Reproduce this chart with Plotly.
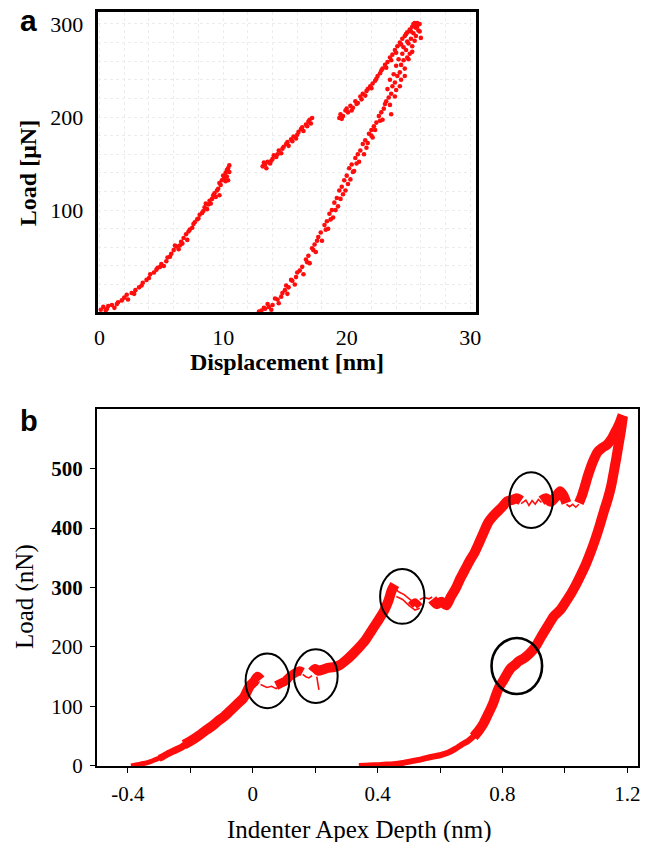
import plotly.graph_objects as go

W, H = 659, 842
RED = "#ff0d0d"
SERIF = "Liberation Serif"

# ---------------- panel a : load-displacement scatter ----------------
seg1_x = [0.1, 0.3, 0.5, 0.7, 1.0, 1.2, 1.5, 1.8, 2.0, 2.3, 2.6, 2.9, 3.2, 3.5, 3.8, 4.1, 4.4, 4.7,
          5.0, 5.2, 5.5, 5.8, 6.0, 6.2, 6.4, 6.6, 6.8, 7.0, 7.1, 7.3, 7.5, 7.7, 7.9, 8.1, 8.3, 8.5,
          8.7, 8.9, 9.1, 9.3, 9.4, 9.6, 9.8, 9.9, 10.1, 10.2, 10.3, 10.4, 10.5, 10.4, 9.7, 8.8, 6.7,
          5.7, 4.6,
          0.6, 1.4, 2.2, 2.8, 3.4, 4.0, 4.9, 5.4, 6.1, 6.5, 7.2, 7.6, 8.0, 8.4, 8.6, 9.0, 9.2, 9.5,
          9.7, 10.0, 10.3, 10.5, 10.2]
seg1_y = [-7, -4, -8, -3, -2, -5, 1, 3, 6, 4, 11, 14, 17, 22, 25, 31, 33, 38,
          42, 40, 49, 53, 57, 61, 58, 66, 70, 74, 68, 79, 81, 87, 90, 95, 97, 103,
          101, 110, 112, 118, 114, 123, 127, 132, 134, 140, 136, 145, 141, 132, 116, 106, 64,
          50, 36,
          -6, -1, 9, 10, 19, 27, 39, 45, 62, 62, 77, 85, 91, 99, 107, 107, 116, 121,
          129, 137, 143, 148, 131]

seg2_x = [13.2, 13.3, 13.5, 13.6, 13.8, 14.0, 14.1, 14.3, 14.5, 14.7, 14.9, 15.1, 15.3, 15.5,
          15.7, 15.9, 16.1, 16.3, 16.5, 16.7, 16.9, 17.1, 17.2,
          13.4, 13.9, 14.4, 14.8, 15.2, 15.6, 16.0, 16.4, 16.8, 17.0]
seg2_y = [147, 151, 145, 152, 150, 155, 159, 157, 164, 161, 168, 171, 169, 176,
          179, 177, 184, 187, 185, 192, 195, 193, 199,
          149, 153, 160, 166, 173, 174, 181, 189, 190, 197]

seg3_x = [19.4, 19.5, 19.7, 19.9, 20.1, 20.3, 20.5, 20.7, 20.9, 21.1, 21.3, 21.5, 21.7, 21.9,
          22.1, 22.3, 22.5, 22.7, 22.9, 23.1, 23.3, 23.5, 23.7, 23.9, 24.1, 24.3, 24.5, 24.7,
          24.9, 25.1, 25.3, 25.5, 25.6,
          19.6, 20.0, 20.4, 20.8, 21.2, 21.6, 22.0, 22.4, 22.8, 23.2, 23.6, 24.0, 24.4, 24.8,
          25.2, 25.4, 25.7, 25.9]
seg3_y = [199, 203, 201, 207, 205, 212, 210, 217, 215, 222, 225, 223, 230, 233,
          236, 239, 244, 247, 252, 256, 259, 264, 267, 272, 276, 280, 284, 287,
          291, 294, 297, 299, 296,
          198, 209, 207, 214, 219, 228, 231, 241, 250, 253, 261, 269, 278, 289,
          292, 300, 301, 292]

unload_x = [25.9, 25.7, 25.5, 25.8, 26.0, 25.4, 25.6, 25.2, 25.0, 25.3, 24.8, 25.1, 24.9, 24.6,
            24.4, 24.7, 24.3, 24.1, 24.4, 23.9, 23.7, 24.0, 23.6, 23.4, 23.2, 23.5, 23.0, 22.8,
            22.6, 22.9, 22.4, 22.2, 22.0, 21.8, 22.1, 21.5, 21.3, 21.6, 21.1, 20.9, 20.7, 21.0,
            20.4, 20.2, 20.5, 20.0, 19.8, 20.1, 19.6, 19.4, 19.7, 19.2, 19.0, 19.3, 18.8, 18.6,
            18.9, 18.4, 18.2, 18.5, 17.9, 17.7, 18.0, 17.4, 17.2, 17.5, 16.9, 16.7, 17.0, 16.4,
            16.2, 16.5, 15.9, 15.6, 15.8, 15.3, 15.0, 15.2, 14.7, 14.4, 14.5, 14.0, 13.7, 13.9,
            13.4, 13.1, 12.9,
            24.2, 24.5, 24.0, 23.8, 24.6, 24.9, 23.5, 23.3, 23.9, 23.1, 22.7, 23.6, 22.3, 22.0,
            21.7, 21.4, 20.8, 20.6, 20.3, 19.9, 19.5, 19.1, 18.7, 18.3, 17.6, 17.3, 16.8, 16.0,
            15.5, 15.1, 14.8, 14.2, 13.6, 13.3, 25.5, 25.3, 25.0, 24.7, 24.3]
unload_y = [300, 297, 301, 293, 285, 290, 287, 284, 279, 276, 272, 268, 264, 261,
            256, 252, 248, 244, 240, 237, 233, 229, 225, 221, 217, 213, 209, 205,
            201, 197, 194, 190, 186, 182, 178, 175, 171, 167, 164, 160, 156, 152,
            149, 145, 141, 137, 132, 128, 125, 121, 117, 113, 108, 104, 100, 96,
            92, 88, 84, 80, 76, 71, 67, 63, 59, 55, 51, 47, 43, 39,
            35, 31, 28, 24, 20, 17, 14, 10, 7, 4, 0, -2, -4, -7,
            -6, -8, -9,
            262, 268, 255, 246, 275, 281, 240, 230, 222, 214, 196, 203, 186, 180,
            172, 160, 150, 142, 133, 121, 112, 100, 90, 79, 67, 57, 44, 33,
            25, 19, 11, 5, -1, -5, 282, 270, 262, 244, 233]

a_xticks = [0, 10, 20, 30]
a_yticks = [100, 200, 300]

# ---------------- panel b : load vs indenter apex depth ----------------
# thick bands (dense noisy record) and thin squiggles inside the events
load_bands = [
    ([-0.39, -0.37, -0.35, -0.33, -0.31, -0.29],
     [0, 2, 4, 7, 11, 15], 5),
    ([-0.30, -0.29, -0.27, -0.25, -0.23, -0.21],
     [13, 15, 21, 26, 31, 38], 7),
    ([-0.22, -0.19, -0.17, -0.15, -0.13, -0.11, -0.09, -0.07, -0.05, -0.03, -0.01, 0.005, 0.015, 0.025],
     [36, 45, 52, 60, 67, 76, 84, 94, 104, 114, 134, 142, 150, 145], 10),
    ([0.075, 0.09, 0.105, 0.12, 0.135, 0.15, 0.16],
     [135, 139, 143, 151, 156, 160, 158], 9),
    ([0.19, 0.2, 0.21, 0.225, 0.24, 0.26, 0.28, 0.3, 0.32, 0.34, 0.36, 0.38, 0.4, 0.42, 0.435, 0.445, 0.455],
     [158, 163, 160, 162, 165, 166, 170, 178, 188, 199, 211, 227, 243, 260, 278, 295, 305], 10),
    ([0.505, 0.52, 0.535],
     [270, 276, 268], 7),
    ([0.575, 0.59, 0.605, 0.62, 0.635, 0.65, 0.665, 0.68, 0.695, 0.71, 0.725, 0.74, 0.755, 0.77,
      0.785, 0.8, 0.815, 0.83, 0.845, 0.86],
     [280, 272, 276, 270, 285, 298, 315, 330, 345, 358, 375, 393, 410, 420,
      428, 436, 445, 447, 450, 446], 10),
    ([0.925, 0.94, 0.955, 0.97, 0.985, 0.995, 1.005],
     [446, 450, 444, 452, 462, 455, 442], 10),
    ([1.045, 1.055, 1.065, 1.075, 1.09, 1.105, 1.12, 1.135, 1.15, 1.16, 1.17, 1.178, 1.185],
     [442, 455, 472, 490, 512, 528, 535, 540, 550, 560, 570, 580, 590], 10),
]

load_squiggles = [
    ([0.025, 0.045, 0.06, 0.075, 0.09], [137, 132, 134, 130, 136]),
    ([0.16, 0.17, 0.18, 0.19], [154, 150, 148, 152]),
    ([0.205, 0.21, 0.212], [150, 138, 128]),
    ([0.455, 0.47, 0.485, 0.5, 0.515], [298, 292, 288, 282, 275]),
    ([0.46, 0.48, 0.5, 0.52, 0.535], [285, 280, 270, 262, 265]),
    ([0.535, 0.55, 0.565, 0.575], [280, 283, 281, 284]),
    ([0.86, 0.875, 0.885, 0.895, 0.905, 0.915, 0.925], [441, 447, 438, 446, 440, 448, 443]),
    ([1.005, 1.015, 1.025, 1.035, 1.045], [440, 436, 440, 435, 440]),
]

unload_upper_x = [1.186, 1.18, 1.172, 1.165, 1.157, 1.148, 1.137, 1.125, 1.112, 1.098, 1.083, 1.068,
                  1.052, 1.036, 1.02, 1.003, 0.985, 0.965, 0.945, 0.925, 0.905, 0.885, 0.866, 0.852,
                  0.84, 0.828, 0.816, 0.803, 0.79, 0.78, 0.772, 0.763, 0.752, 0.74, 0.725, 0.708]
unload_upper_y = [588, 565, 540, 518, 495, 470, 448, 428, 405, 382, 360, 340,
                  322, 305, 290, 276, 262, 252, 235, 218, 200, 188, 180, 176,
                  170, 165, 156, 144, 133, 120, 108, 97, 85, 72, 60, 49]
unload_lower_x = [0.712, 0.69, 0.67, 0.65, 0.625, 0.6, 0.57, 0.54, 0.51, 0.48, 0.45, 0.42, 0.39, 0.36, 0.34]
unload_lower_y = [52, 42, 36, 29, 22, 18, 15, 11, 8, 5, 3, 2, 1, 0.5, 0]

# highlighted events: centre x, centre y, half-width, half-height, line width
events = [
    (0.047, 143, 0.070, 46, 2.0),
    (0.202, 151, 0.070, 45, 2.0),
    (0.479, 285, 0.071, 46, 2.0),
    (0.892, 447, 0.070, 47, 2.0),
    (0.846, 168, 0.081, 47, 2.6),
]

b_xtickvals = [-0.4, -0.2, 0.0, 0.2, 0.4, 0.6, 0.8, 1.0, 1.2]
b_xticktext = ["-0.4", "", "0", "", "0.4", "", "0.8", "", "1.2"]
b_ytickvals = [0, 100, 200, 300, 400, 500]
b_yticktext = ["0", "100", "200", "<b>300</b>", "<b>400</b>", "<b>500</b>"]

fig = go.Figure()

for xs, ys in [(seg1_x, seg1_y), (seg2_x, seg2_y), (seg3_x, seg3_y), (unload_x, unload_y)]:
    fig.add_trace(go.Scatter(x=xs, y=ys, mode="markers", xaxis="x", yaxis="y",
                             marker=dict(color=RED, size=4.6, line=dict(width=0)),
                             showlegend=False, hoverinfo="skip"))

band_line = dict(color=RED, shape="spline", smoothing=0.7)
for xs, ys, w in load_bands:
    fig.add_trace(go.Scatter(x=xs, y=ys, mode="lines", xaxis="x2", yaxis="y2",
                             line=dict(band_line, width=w),
                             showlegend=False, hoverinfo="skip"))
for xs, ys in load_squiggles:
    fig.add_trace(go.Scatter(x=xs, y=ys, mode="lines", xaxis="x2", yaxis="y2",
                             line=dict(color=RED, width=1.6),
                             showlegend=False, hoverinfo="skip"))
fig.add_trace(go.Scatter(x=unload_upper_x, y=unload_upper_y, mode="lines", xaxis="x2", yaxis="y2",
                         line=dict(band_line, width=10), showlegend=False, hoverinfo="skip"))
fig.add_trace(go.Scatter(x=unload_lower_x, y=unload_lower_y, mode="lines", xaxis="x2", yaxis="y2",
                         line=dict(band_line, width=6), showlegend=False, hoverinfo="skip"))

shapes = []
for cx, cy, rx, ry, lw in events:
    shapes.append(dict(type="circle", xref="x2", yref="y2",
                       x0=cx - rx, x1=cx + rx, y0=cy - ry, y1=cy + ry,
                       line=dict(color="black", width=lw), layer="above"))


def px(x):
    return x / W


def py(y):
    return 1 - y / H


def label(text, x, y, size, angle=0, family=SERIF):
    return dict(text=text, x=px(x), y=py(y), xref="paper", yref="paper", showarrow=False,
                xanchor="center", yanchor="middle", textangle=angle,
                font=dict(family=family, size=size, color="black"))


tick_font_a = dict(family=SERIF, size=22, color="black")
tick_font_b = dict(family=SERIF, size=21, color="black")
grid_c = "#ececec"

fig.update_layout(
    width=W, height=H,
    margin=dict(l=0, r=0, t=0, b=0),
    paper_bgcolor="white", plot_bgcolor="white",
    shapes=shapes,
    xaxis=dict(domain=[px(95), px(479)], range=[-0.15, 30.5], anchor="y",
               tickvals=a_xticks, ticks="", ticklabelstandoff=3, tickfont=tick_font_a,
               showline=True, mirror=True, linewidth=3, linecolor="black",
               showgrid=True, gridcolor=grid_c, griddash="dot", zeroline=False,
               minor=dict(dtick=2, tick0=0, showgrid=True, gridcolor=grid_c, griddash="dot")),
    yaxis=dict(domain=[py(317), py(12)], range=[-10, 313], anchor="x",
               tickvals=a_yticks, ticks="", ticklabelstandoff=7, tickfont=tick_font_a,
               showline=True, mirror=True, linewidth=3, linecolor="black",
               showgrid=True, gridcolor=grid_c, griddash="dot", zeroline=False,
               minor=dict(dtick=20, tick0=0, showgrid=True, gridcolor=grid_c, griddash="dot")),
    xaxis2=dict(domain=[px(94), px(643)], range=[-0.5, 1.235], anchor="y2",
                tickvals=b_xtickvals, ticktext=b_xticktext, ticks="outside", ticklen=5,
                tickwidth=1.2, tickcolor="black", ticklabelstandoff=3, tickfont=tick_font_b,
                showline=True, mirror=True, linewidth=1.6, linecolor="black",
                showgrid=False, zeroline=False),
    yaxis2=dict(domain=[py(777), py(415)], range=[0, 600], anchor="x2",
                tickvals=b_ytickvals, ticktext=b_yticktext, ticks="outside", ticklen=5,
                tickwidth=1.2, tickcolor="black", ticklabelstandoff=3, tickfont=tick_font_b,
                showline=True, mirror=True, linewidth=1.6, linecolor="black",
                showgrid=False, zeroline=False),
    annotations=[
        label("<b>a</b>", 25, 21, 30, family="Liberation Sans"),
        label("<b>b</b>", 25, 427, 29, family="Liberation Sans"),
        label("<b>Load [μN]</b>", 25, 176, 24, angle=-90),
        label("<b>Displacement [nm]</b>", 287, 367, 24),
        label("Load (nN)", 22, 605, 25, angle=-90),
        label("Indenter Apex Depth (nm)", 360, 842, 25),
    ],
)

fig.write_html("out.html")
